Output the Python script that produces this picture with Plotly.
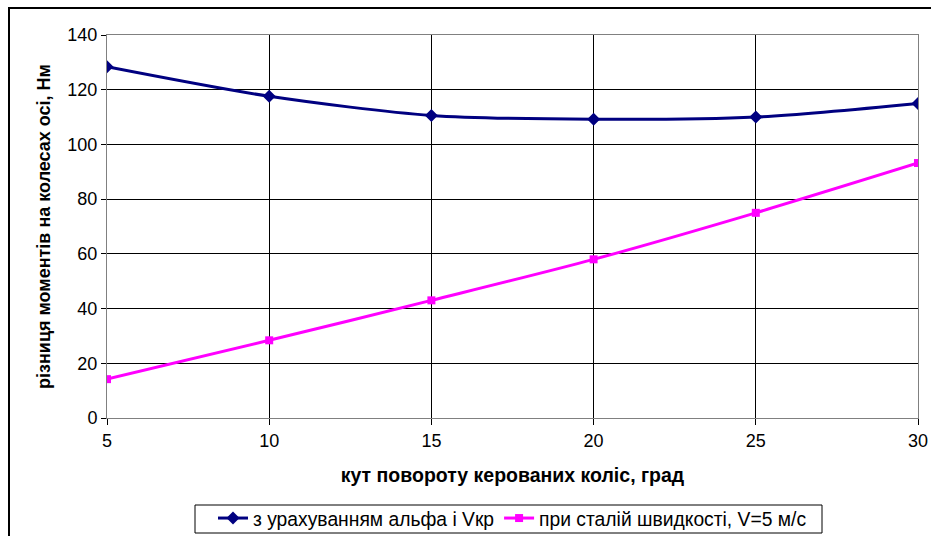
import plotly.graph_objects as go

angles = [5, 10, 15, 20, 25, 30]
with_alpha = [128.4, 117.6, 110.6, 109.2, 110.0, 115.0]
const_speed = [14.2, 28.4, 43.0, 58.0, 75.0, 93.2]
name1 = "з урахуванням альфа і Vкр"
name2 = "при сталій швидкості, V=5 м/с"
x_title = "кут повороту керованих коліс, град"
y_title = "різниця моментів на колесах осі, Нм"

fig = go.Figure()
fig.add_trace(go.Scatter(x=angles, y=with_alpha, name=name1, mode="lines+markers",
                         line=dict(color="#000080", width=3, shape="spline", smoothing=0.8),
                         marker=dict(symbol="diamond", size=10, color="#000080")))
fig.add_trace(go.Scatter(x=angles, y=const_speed, name=name2, mode="lines+markers",
                         line=dict(color="#FF00FF", width=3, shape="spline", smoothing=0.8),
                         marker=dict(symbol="square", size=8, color="#FF00FF")))

# plot area in the window: x 107..918, y 35..418
L, T, R, B = 107, 35, 13, 118
PW = 931 - L - R
PH = 536 - T - B
font = "Liberation Sans, Arial, sans-serif"
fig.update_layout(
    width=931, height=536,
    margin=dict(l=L, r=R, t=T, b=B, autoexpand=False),
    paper_bgcolor="white", plot_bgcolor="white",
    font=dict(family=font, size=18, color="black"),
    showlegend=True,
    legend=dict(orientation="h", x=0.5, xanchor="center", y=-(499 - 418) / PH, yanchor="top",
                borderwidth=0, bgcolor="rgba(0,0,0,0)", font=dict(size=19.3),
                itemwidth=30, tracegroupgap=0),
    xaxis=dict(range=[5, 30], tickvals=angles, showgrid=True, gridcolor="black", gridwidth=1,
               showline=True, linecolor="#808080", linewidth=1, mirror=True, automargin=False,
               ticks="outside", ticklen=6, tickcolor="black", zeroline=False,
               title=dict(text="<b>" + x_title + "</b>", font=dict(size=19.5), standoff=18)),
    yaxis=dict(range=[0, 140], dtick=20, showgrid=True, gridcolor="black", gridwidth=1,
               showline=True, linecolor="#808080", linewidth=1, mirror=True, automargin=False,
               ticks="outside", ticklen=5, tickcolor="black", zeroline=False,
               title=dict(text="<b>" + y_title + "</b>", font=dict(size=18), standoff=12)),
)
# outer chart border
fig.add_shape(type="rect", xref="paper", yref="paper",
              x0=(9 - L) / PW, x1=1.2, y0=-0.5, y1=1 + (T - 8) / PH,
              line=dict(color="black", width=2), fillcolor="rgba(0,0,0,0)", layer="below")
# legend frame
fig.add_shape(type="rect", xref="paper", yref="paper",
              x0=(195 - L) / PW, x1=(822 - L) / PW,
              y0=-(533 - 418) / PH, y1=-(505 - 418) / PH,
              line=dict(color="black", width=1), fillcolor="rgba(0,0,0,0)", layer="below")
fig.write_html("out.html", config={"displayModeBar": False},
               post_script="document.body.style.margin='0';")
